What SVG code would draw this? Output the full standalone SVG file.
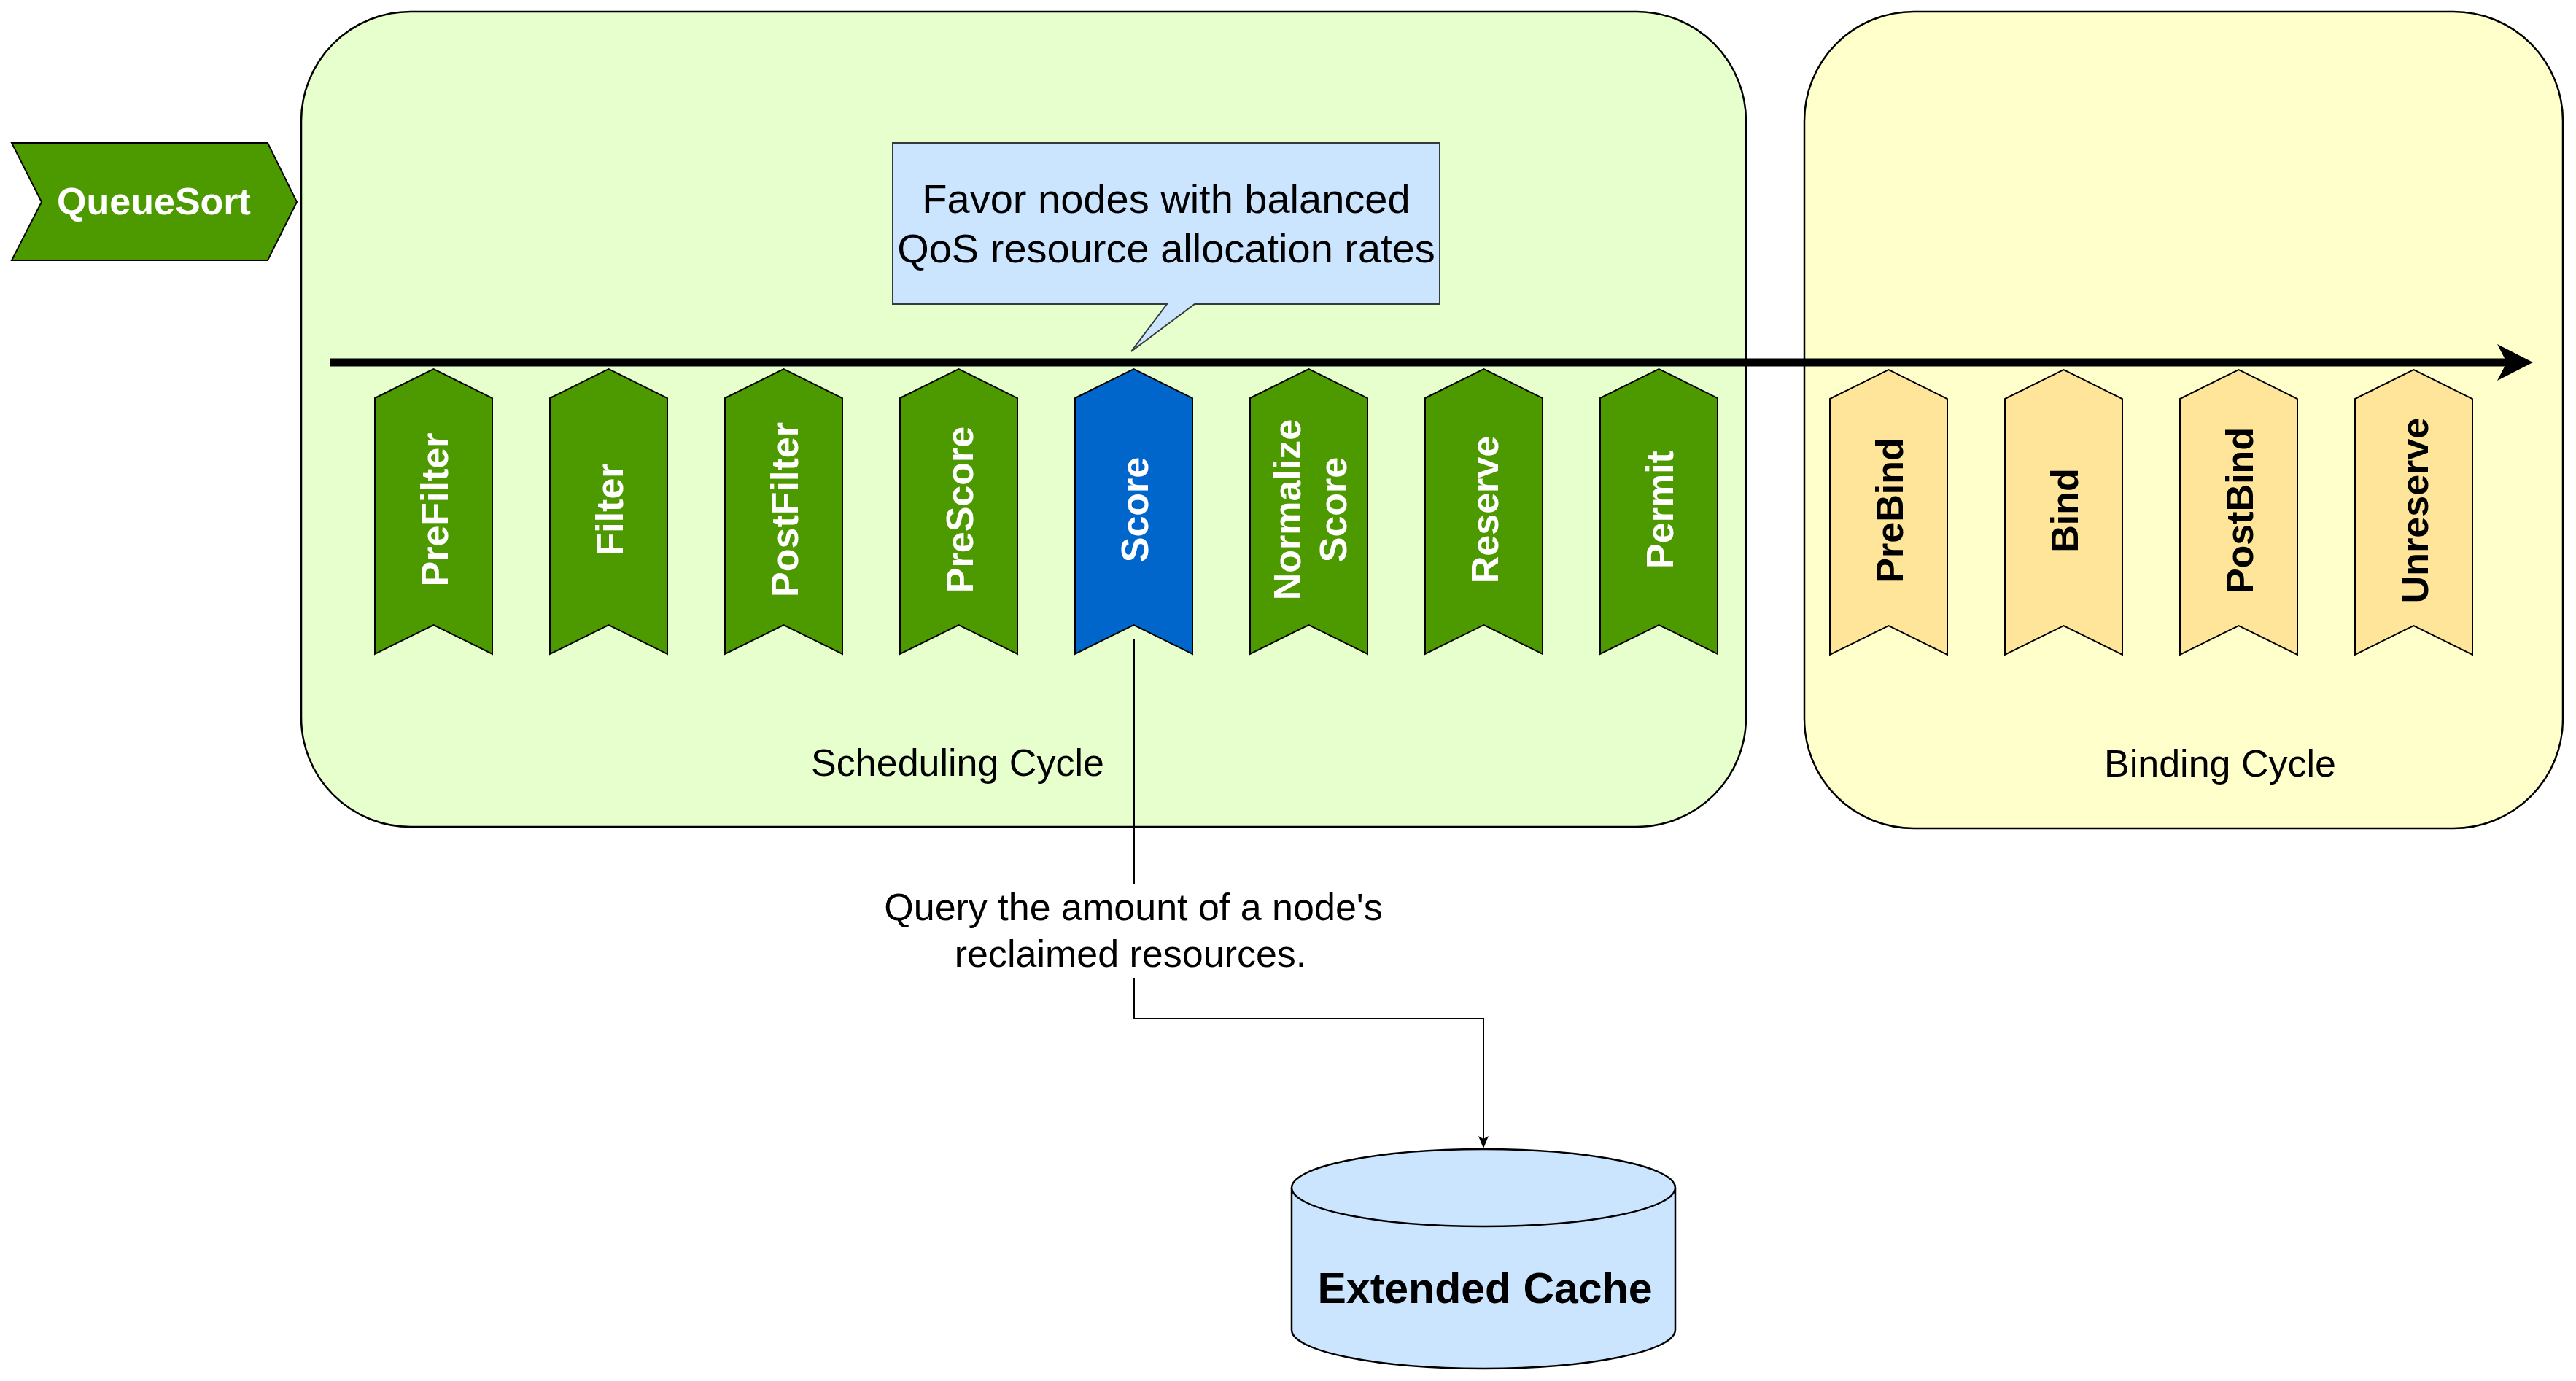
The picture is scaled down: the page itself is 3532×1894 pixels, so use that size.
<svg xmlns="http://www.w3.org/2000/svg" width="3532" height="1894" viewBox="0 0 3532 1894">
<style>
text{font-family:"Liberation Sans",Arial,Helvetica,sans-serif}
.cont{stroke:#000;stroke-width:2.5}
.chev{stroke:#000;stroke-width:2}
.g{fill:#4D9900}
.b{fill:#0066CC}
.y{fill:#FFE599}
.wt{fill:#fff;font-weight:bold;font-size:52px}
.bt{fill:#000;font-weight:bold;font-size:52px}
.lbl{fill:#000;font-size:52px}
</style>
<defs>
<path id="chevShape" d="M0,40 L80.5,0 L161,40 L161,391 L80.5,351 L0,391 Z"/>
<marker id="bigArrow" markerUnits="userSpaceOnUse" viewBox="0 0 50 50" markerWidth="50" markerHeight="50" refX="13" refY="25" orient="auto">
<path d="M0,0 L49,25 L0,50 L13,25 Z" fill="#000"/>
</marker>
<marker id="smallArrow" markerUnits="userSpaceOnUse" viewBox="0 0 18 14" markerWidth="18" markerHeight="14" refX="4" refY="7" orient="auto">
<path d="M0,0 L17,7 L0,14 L4,7 Z" fill="#000"/>
</marker>
</defs>
<rect width="3532" height="1894" fill="#fff"/>

<g id="scheduling-cycle">
<rect class="cont" x="413" y="16" width="1981" height="1118" rx="150" ry="150" fill="#E6FFCC"/>
<text class="lbl" x="1313" y="1064" text-anchor="middle">Scheduling Cycle</text>
</g>
<g id="binding-cycle">
<rect class="cont" x="2474" y="16" width="1040" height="1120" rx="150" ry="150" fill="#FFFFCC"/>
<text class="lbl" x="3044" y="1065" text-anchor="middle">Binding Cycle</text>
</g>

<g id="queuesort">
<path d="M16,196 L367,196 L407,277 L367,357 L16,357 L57,277 Z" fill="#4D9900" stroke="#000" stroke-width="2"/>
<text x="211" y="294" text-anchor="middle" fill="#fff" font-weight="bold" font-size="52">QueueSort</text>
</g>

<g id="connectors">
<line x1="453" y1="497" x2="3437" y2="497" stroke="#000" stroke-width="11" marker-end="url(#bigArrow)"/>
<path d="M1555,877 L1555,1397 L2034,1397 L2034,1562" fill="none" stroke="#000" stroke-width="2" marker-end="url(#smallArrow)"/>
<g id="connector-label">
<rect x="1205" y="1213" width="698" height="128" fill="#fff"/>
<text class="lbl" text-anchor="middle"><tspan x="1554" y="1262">Query the amount of a node's</tspan><tspan x="1550" y="1326">reclaimed resources.</tspan></text>
</g>
</g>

<g id="callout">
<path d="M1224,196 L1974,196 L1974,417 L1638,417 L1551,482 L1600,417 L1224,417 Z" fill="#CCE5FF" stroke="#36393D" stroke-width="2"/>
<text fill="#000" font-size="56" text-anchor="middle"><tspan x="1599" y="292">Favor nodes with balanced</tspan><tspan x="1599" y="360">QoS resource allocation rates</tspan></text>
</g>

<g id="prefilter">
<use href="#chevShape" class="chev g" x="514" y="506"/>
<text class="wt" transform="translate(594.5,699) rotate(-90)" y="19" text-anchor="middle">PreFilter</text>
</g>
<g id="filter">
<use href="#chevShape" class="chev g" x="754" y="506"/>
<text class="wt" transform="translate(834.5,699) rotate(-90)" y="19" text-anchor="middle">Filter</text>
</g>
<g id="postfilter">
<use href="#chevShape" class="chev g" x="994" y="506"/>
<text class="wt" transform="translate(1074.5,699) rotate(-90)" y="19" text-anchor="middle">PostFilter</text>
</g>
<g id="prescore">
<use href="#chevShape" class="chev g" x="1234" y="506"/>
<text class="wt" transform="translate(1314.5,699) rotate(-90)" y="19" text-anchor="middle">PreScore</text>
</g>
<g id="score">
<use href="#chevShape" class="chev b" x="1474" y="506"/>
<text class="wt" transform="translate(1554.5,699) rotate(-90)" y="19" text-anchor="middle">Score</text>
</g>
<g id="normalize-score">
<use href="#chevShape" class="chev g" x="1714" y="506"/>
<text class="wt" transform="translate(1794.5,699) rotate(-90)" text-anchor="middle"><tspan x="0" y="-12">Normalize</tspan><tspan x="0" y="51">Score</tspan></text>
</g>
<g id="reserve">
<use href="#chevShape" class="chev g" x="1954" y="506"/>
<text class="wt" transform="translate(2034.5,699) rotate(-90)" y="19" text-anchor="middle">Reserve</text>
</g>
<g id="permit">
<use href="#chevShape" class="chev g" x="2194" y="506"/>
<text class="wt" transform="translate(2274.5,699) rotate(-90)" y="19" text-anchor="middle">Permit</text>
</g>

<g id="prebind">
<use href="#chevShape" class="chev y" x="2509" y="507"/>
<text class="bt" transform="translate(2589.5,700) rotate(-90)" y="19" text-anchor="middle">PreBind</text>
</g>
<g id="bind">
<use href="#chevShape" class="chev y" x="2749" y="507"/>
<text class="bt" transform="translate(2829.5,700) rotate(-90)" y="19" text-anchor="middle">Bind</text>
</g>
<g id="postbind">
<use href="#chevShape" class="chev y" x="2989" y="507"/>
<text class="bt" transform="translate(3069.5,700) rotate(-90)" y="19" text-anchor="middle">PostBind</text>
</g>
<g id="unreserve">
<use href="#chevShape" class="chev y" x="3229" y="507"/>
<text class="bt" transform="translate(3309.5,700) rotate(-90)" y="19" text-anchor="middle">Unreserve</text>
</g>

<g id="extended-cache">
<path d="M1771,1629 A263,53 0 0 1 2297,1629 L2297,1824 A263,53 0 0 1 1771,1824 Z" fill="#CCE5FF" stroke="#000" stroke-width="2.5"/>
<path d="M1771,1629 A263,53 0 0 0 2297,1629" fill="none" stroke="#000" stroke-width="2.5"/>
<text x="2036" y="1787" text-anchor="middle" fill="#000" font-weight="bold" font-size="59">Extended Cache</text>
</g>
</svg>
